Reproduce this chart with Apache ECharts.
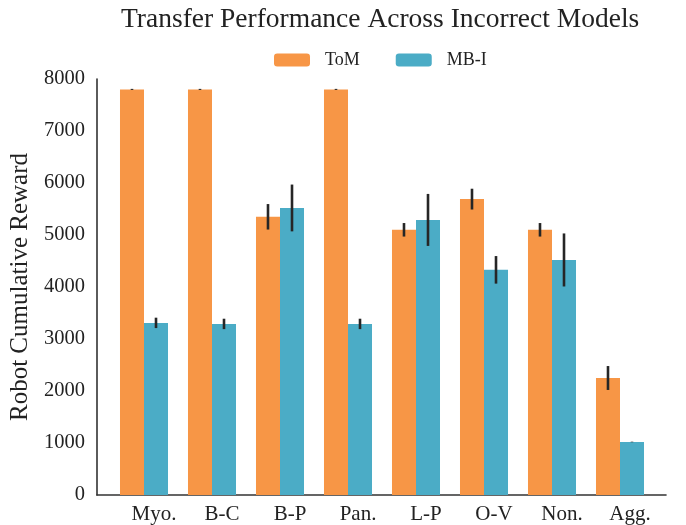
<!DOCTYPE html>
<html><head><meta charset="utf-8">
<script src="https://cdn.jsdelivr.net/npm/echarts@6/dist/echarts.min.js"></script>
<style>html,body{margin:0;padding:0;background:#fff}#c{width:686px;height:525px}</style>
</head><body><div id="c"></div>
<script>
const categories = ['Myo.', 'B-C', 'B-P', 'Pan.', 'L-P', 'O-V', 'Non.', 'Agg.'];
const tomValues = [7800, 7800, 5350, 7800, 5100, 5690, 5100, 2250];
const tomErrors = [10, 10, 245, 10, 130, 200, 130, 230];
const mbiValues = [3310, 3290, 5520, 3290, 5290, 4330, 4520, 1020];
const mbiErrors = [100, 100, 450, 100, 500, 265, 510, 5];
const yMin = 0, yMax = 8000, yStep = 1000;

const FONT = '"Liberation Serif", "DejaVu Serif", serif';
const TOM_COLOR = '#F79646';
const MBI_COLOR = '#4BACC6';
const BAR_FRAC = 0.353;
const AXIS_COLOR = '#333333';

function errorSeries(name, values, errors, side) {
  return {
    type: 'custom', name: name + ' err', xAxisIndex: 0, yAxisIndex: 0, z: 10,
    silent: true,
    encode: { x: 0, y: [1, 2] },
    data: values.map((v, i) => [i, v - errors[i], v + errors[i]]),
    renderItem(params, api) {
      const i = api.value(0);
      const lo = api.coord([i, api.value(1)]);
      const hi = api.coord([i, api.value(2)]);
      const band = api.size([1, 0])[0];
      const off = side * band * BAR_FRAC / 2;
      return {
        type: 'line',
        shape: { x1: lo[0] + off, y1: lo[1], x2: hi[0] + off, y2: hi[1] },
        style: { stroke: '#262626', lineWidth: 2.6 }
      };
    }
  };
}

const chart = echarts.init(document.getElementById('c'), null, { renderer: 'canvas' });
chart.setOption({
  animation: false,
  backgroundColor: '#ffffff',
  title: {
    text: 'Transfer Performance Across Incorrect Models',
    left: 116, top: 1,
    textStyle: { fontFamily: FONT, fontSize: 27.5, fontWeight: 'normal', color: '#222' }
  },
  legend: {
    data: ['ToM', 'MB-I'],
    left: 269, top: 46,
    itemWidth: 36, itemHeight: 13, itemGap: 36,
    textStyle: { fontFamily: FONT, fontSize: 18, color: '#222', padding: [0, 0, 0, 10] }
  },
  grid: [
    { left: 110, right: 32, top: 79, bottom: 30 },
    { left: 94, right: 20, top: 79, bottom: 30 }
  ],
  xAxis: [
    {
      type: 'category', gridIndex: 0, data: categories, boundaryGap: true,
      axisLine: { show: false }, axisTick: { show: false },
      axisLabel: { fontFamily: FONT, fontSize: 21, color: '#222', margin: 9, padding: [0, 0, 0, 20] }
    },
    {
      type: 'value', gridIndex: 1, min: 0, max: 1,
      axisLine: { show: true, lineStyle: { color: AXIS_COLOR, width: 1.6 } },
      axisTick: { show: false }, axisLabel: { show: false }, splitLine: { show: false }
    }
  ],
  yAxis: [
    {
      type: 'value', gridIndex: 0, min: yMin, max: yMax, interval: yStep,
      show: false, splitLine: { show: false }
    },
    {
      type: 'value', gridIndex: 1, min: yMin, max: yMax, interval: yStep,
      name: 'Robot Cumulative Reward', nameLocation: 'middle', nameGap: 58,
      nameTextStyle: { fontFamily: FONT, fontSize: 25, color: '#222' },
      axisLine: { show: true, lineStyle: { color: AXIS_COLOR, width: 1.6 } },
      axisTick: { show: false }, splitLine: { show: false },
      axisLabel: { fontFamily: FONT, fontSize: 20.5, color: '#222', margin: 12,
                   formatter: v => String(v) }
    }
  ],
  series: [
    { type: 'bar', name: 'ToM', xAxisIndex: 0, yAxisIndex: 0, data: tomValues,
      barWidth: (BAR_FRAC * 100) + '%', barGap: '0%', itemStyle: { color: TOM_COLOR } },
    { type: 'bar', name: 'MB-I', xAxisIndex: 0, yAxisIndex: 0, data: mbiValues,
      barWidth: (BAR_FRAC * 100) + '%', barGap: '0%', itemStyle: { color: MBI_COLOR } },
    errorSeries('ToM', tomValues, tomErrors, -1),
    errorSeries('MB-I', mbiValues, mbiErrors, 1)
  ]
});
</script></body></html>
